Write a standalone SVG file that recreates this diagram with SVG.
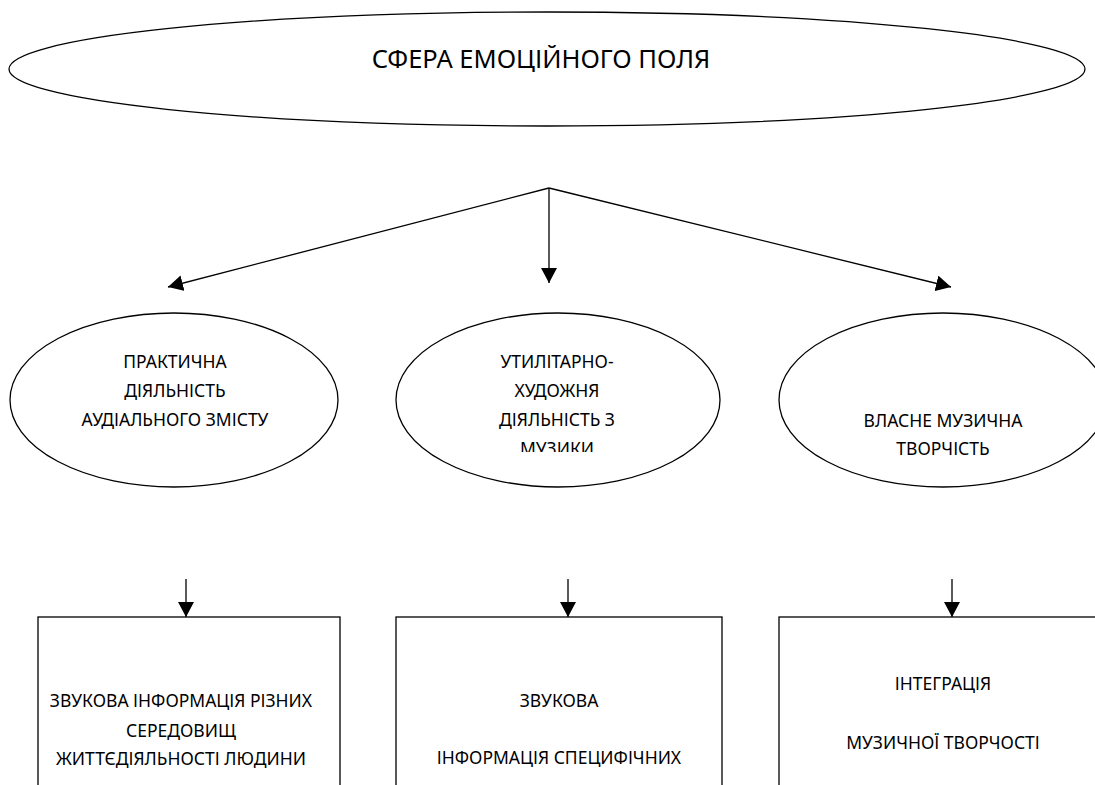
<svg xmlns="http://www.w3.org/2000/svg" width="1095" height="785" viewBox="0 0 1095 785">
<style>
.shape{fill:#fff;stroke:#000;stroke-width:1.3}
.t{font-family:"Noto Sans","Open Sans","DejaVu Sans",sans-serif;font-size:17.5px;fill:#000;text-anchor:middle;dominant-baseline:central}
.title{font-size:25.5px}
.conn{stroke:#000;stroke-width:1.3;fill:none;marker-end:url(#ah)}
</style>
<defs>
<marker id="ah" markerUnits="userSpaceOnUse" markerWidth="16" markerHeight="16" refX="15" refY="8" orient="auto" viewBox="0 0 16 16">
<path d="M0,0 L15,8 L0,16 z" fill="#000"/>
</marker>
<clipPath id="clip2"><rect x="380" y="300" width="360" height="152"/></clipPath>
</defs>
<rect width="1095" height="785" fill="#fff"/>
<g id="root">
<ellipse class="shape" cx="547" cy="69" rx="538" ry="57"/>
<text class="t title" x="541" y="58">СФЕРА ЕМОЦІЙНОГО ПОЛЯ</text>
</g>
<g id="connectors">
<line class="conn" x1="549" y1="188" x2="168" y2="287"/>
<line class="conn" x1="549" y1="188" x2="549" y2="283"/>
<line class="conn" x1="549" y1="188" x2="951" y2="287"/>
<line class="conn" x1="186" y1="579" x2="186" y2="617"/>
<line class="conn" x1="568" y1="579" x2="568" y2="617"/>
<line class="conn" x1="952" y1="579" x2="952" y2="617"/>
</g>
<g id="e1">
<ellipse class="shape" cx="174" cy="400" rx="164" ry="87"/>
<text class="t" x="175" y="361">ПРАКТИЧНА</text>
<text class="t" x="175" y="390">ДІЯЛЬНІСТЬ</text>
<text class="t" x="175" y="419">АУДІАЛЬНОГО ЗМІСТУ</text>
</g>
<g id="e2">
<ellipse class="shape" cx="558" cy="400" rx="162" ry="87"/>
<g clip-path="url(#clip2)">
<text class="t" x="557" y="361">УТИЛІТАРНО-</text>
<text class="t" x="557" y="390">ХУДОЖНЯ</text>
<text class="t" x="557" y="419">ДІЯЛЬНІСТЬ З</text>
<text class="t" x="557" y="448">МУЗИКИ</text>
</g>
</g>
<g id="e3">
<ellipse class="shape" cx="943" cy="400" rx="164" ry="87"/>
<text class="t" x="943" y="420">ВЛАСНЕ МУЗИЧНА</text>
<text class="t" x="943" y="448">ТВОРЧІСТЬ</text>
</g>
<g id="b1">
<rect class="shape" x="38" y="617" width="302" height="200"/>
<text class="t" x="181" y="700">ЗВУКОВА ІНФОРМАЦІЯ РІЗНИХ</text>
<text class="t" x="181" y="730">СЕРЕДОВИЩ</text>
<text class="t" x="181" y="758">ЖИТТЄДІЯЛЬНОСТІ ЛЮДИНИ</text>
</g>
<g id="b2">
<rect class="shape" x="396" y="617" width="326" height="200"/>
<text class="t" x="559" y="700">ЗВУКОВА</text>
<text class="t" x="559" y="757">ІНФОРМАЦІЯ СПЕЦИФІЧНИХ</text>
</g>
<g id="b3">
<rect class="shape" x="779" y="617" width="330" height="200"/>
<text class="t" x="943" y="683">ІНТЕГРАЦІЯ</text>
<text class="t" x="943" y="742">МУЗИЧНОЇ ТВОРЧОСТІ</text>
</g>
</svg>
